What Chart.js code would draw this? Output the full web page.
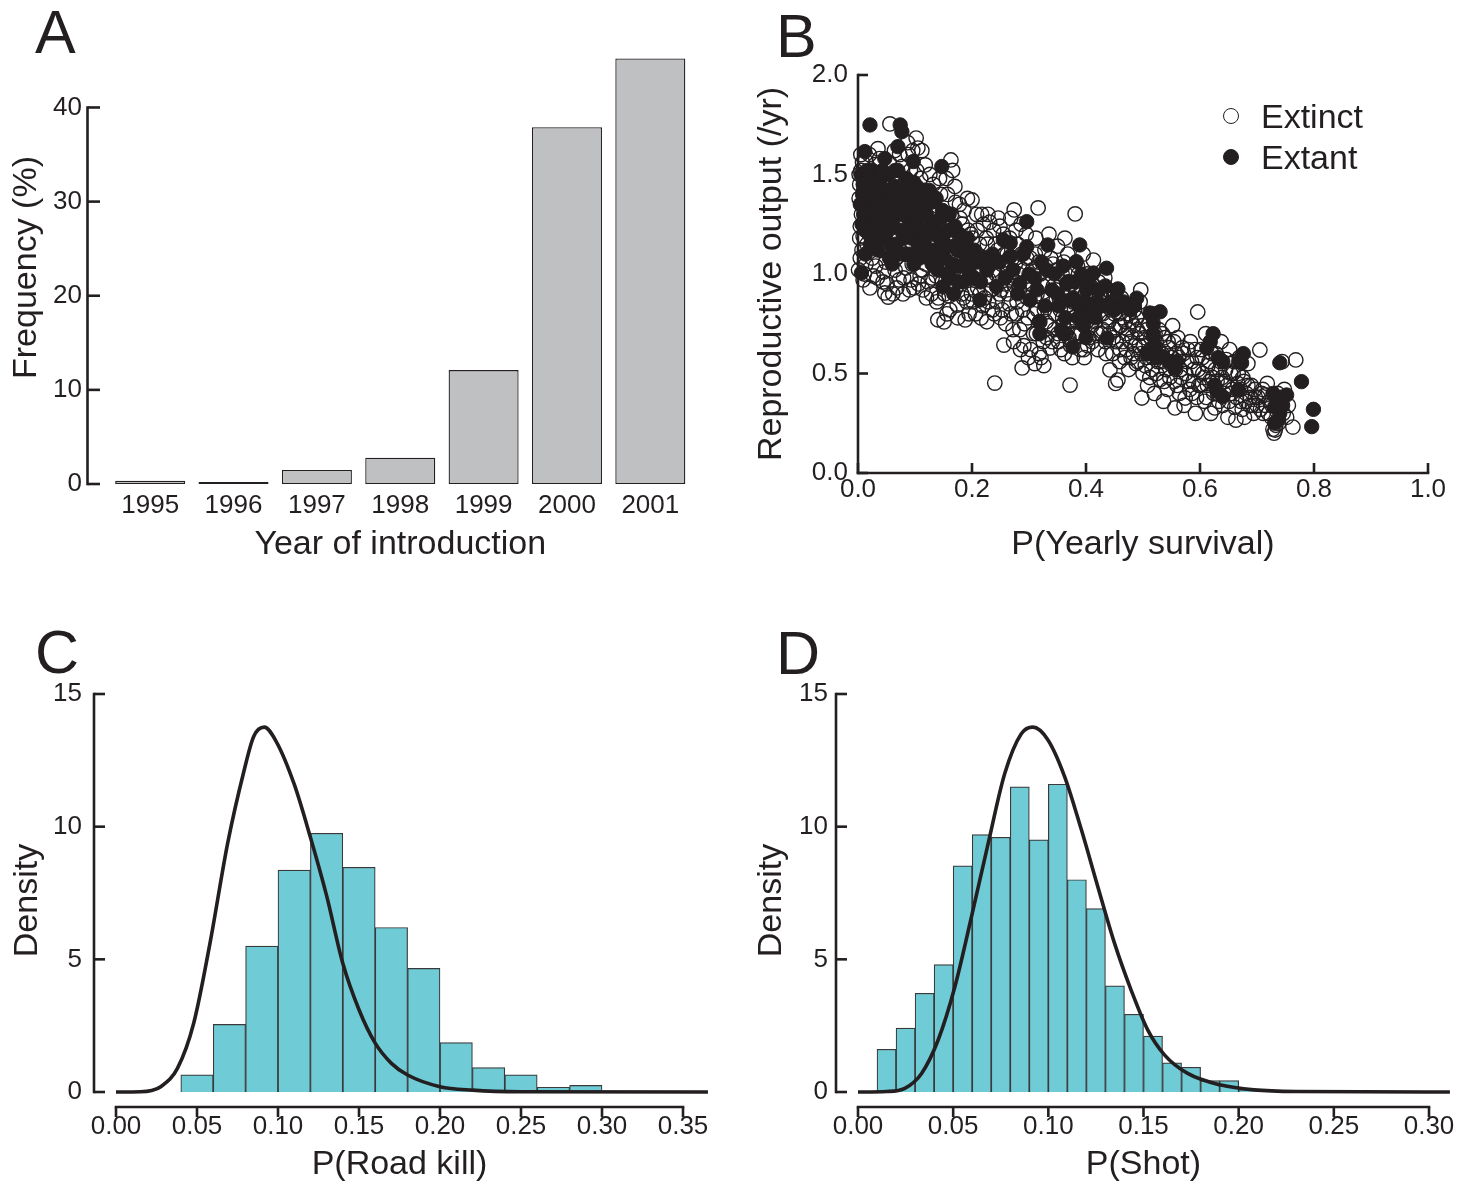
<!DOCTYPE html>
<html>
<head>
<meta charset="utf-8">
<script src="https://cdn.jsdelivr.net/npm/chart.js@4.4.0/dist/chart.umd.min.js"></script>
<style>
  html, body { margin: 0; padding: 0; background: #fff; overflow: hidden; }
  #page { position: relative; width: 1470px; height: 1183px; }
  canvas { position: absolute; }
  .lbl { position: absolute; color: #231f20; line-height: 1; white-space: nowrap; }
  .dot { position: absolute; width: 16px; height: 16px; border-radius: 50%; box-sizing: border-box; border: 1.4px solid #231f20; }
</style>
</head>
<body>
<div id="page">
  <canvas id="chartA" width="735" height="585" style="left:0;top:0"></canvas>
  <canvas id="chartB" width="735" height="585" style="left:735px;top:0"></canvas>
  <canvas id="chartC" width="735" height="605" style="left:0;top:585px"></canvas>
  <canvas id="chartD" width="735" height="605" style="left:735px;top:585px"></canvas>

  <div class="lbl letter" style="left:35px;top:-3px">A</div>
  <div class="lbl letter" style="left:776px;top:1px">B</div>
  <div class="lbl letter" style="left:35px;top:617px">C</div>
  <div class="lbl letter" style="left:776px;top:618px">D</div>

  <div class="dot" style="left:1223px;top:108px"></div>
  <div class="dot" style="left:1223px;top:149px;background:#231f20"></div>
  <div class="lbl legend" id="legExtinct" style="left:1261px">Extinct</div>
  <div class="lbl legend" id="legExtant" style="left:1261px">Extant</div>
</div>

<script>
// ---- data ----

// A: year of introduction
const years = ['1995', '1996', '1997', '1998', '1999', '2000', '2001'];
const yearFreq = [0.35, 0.2, 1.5, 2.8, 12.1, 37.9, 45.2];
const freqTicks = [0, 10, 20, 30, 40];

// B: survival vs reproductive output
const extinctPts = [
  [0.003,1.45],[0.005,1.52],[0.002,1.38],[0.006,1.30],[0.004,1.24],[0.008,1.56],[0.010,1.42],[0.012,1.33],
  [0.003,1.18],[0.007,1.12],[0.001,1.02],[0.009,0.97],[0.015,1.27],[0.018,1.49],[0.020,1.60],[0.022,1.20],
  [0.025,1.08],[0.028,1.38],[0.014,1.05],[0.030,1.55],[0.027,0.99],[0.005,1.60],[0.016,1.15],
  [0.035,1.63],[0.038,1.47],[0.040,1.29],[0.042,1.12],[0.045,1.01],[0.047,0.905],[0.050,1.22],[0.052,1.40],
  [0.053,0.884],[0.055,1.56],[0.056,1.754],[0.058,1.09],[0.033,1.35],[0.044,0.96],[0.036,1.18],[0.060,1.31],
  [0.062,1.50],[0.065,1.02],[0.068,0.93],[0.070,1.17],[0.073,1.60],[0.075,1.27],[0.078,1.44],[0.080,0.98],
  [0.083,1.10],[0.085,1.35],[0.088,1.60],[0.090,0.92],[0.092,1.52],[0.095,1.05],[0.097,1.20],[0.099,1.42],
  [0.066,1.38],[0.087,1.66],
  [0.102,1.683],[0.105,1.633],[0.104,1.30],[0.106,0.95],[0.108,1.13],[0.110,1.48],[0.113,1.02],[0.115,1.25],
  [0.118,1.548],[0.120,0.88],[0.122,1.38],[0.125,1.08],[0.128,1.18],[0.130,0.98],[0.132,1.45],[0.135,1.30],
  [0.138,0.86],[0.140,0.77],[0.112,1.62],[0.136,1.05],
  [0.142,1.20],[0.145,1.40],[0.148,0.96],[0.151,0.759],[0.153,1.10],[0.155,1.48],[0.158,1.30],[0.160,0.89],
  [0.163,1.573],[0.165,1.02],[0.168,1.22],[0.170,1.44],[0.172,0.93],[0.174,0.844],[0.176,1.12],[0.178,1.35],
  [0.156,0.80],[0.166,1.52],
  [0.181,1.05],[0.183,1.25],[0.185,0.88],[0.188,0.769],[0.190,1.14],[0.192,1.38],[0.195,0.98],[0.198,1.20],
  [0.200,1.372],[0.202,0.86],[0.205,1.08],[0.208,1.30],[0.210,0.93],[0.213,1.15],[0.216,0.779],[0.218,1.02],
  [0.220,1.25],[0.195,0.80],
  [0.222,0.88],[0.225,1.18],[0.228,1.30],[0.230,0.97],[0.233,1.08],[0.236,0.82],[0.238,1.22],[0.240,0.452],
  [0.242,1.00],[0.245,1.12],[0.246,1.281],[0.248,0.90],[0.250,0.78],[0.252,1.05],[0.255,1.20],[0.256,0.643],
  [0.258,0.95],[0.226,0.76],
  [0.262,1.10],[0.265,0.85],[0.268,1.28],[0.270,0.98],[0.272,0.72],[0.274,1.322],[0.276,1.05],[0.278,0.80],
  [0.280,1.15],[0.283,0.92],[0.285,0.62],[0.288,0.528],[0.290,1.02],[0.292,0.75],[0.295,1.20],[0.297,0.88],
  [0.299,0.58],[0.286,1.25],
  [0.302,1.08],[0.305,0.95],[0.308,0.70],[0.310,0.55],[0.312,1.18],[0.315,0.82],[0.316,1.332],[0.318,0.60],
  [0.320,1.00],[0.323,0.88],[0.325,0.66],[0.328,1.12],[0.330,0.76],[0.333,0.95],[0.335,1.20],[0.337,0.628],
  [0.339,0.85],[0.326,0.54],
  [0.342,1.05],[0.345,0.72],[0.347,0.92],[0.350,1.14],[0.352,0.66],[0.355,0.82],[0.358,1.00],[0.360,0.75],
  [0.362,0.60],[0.365,0.88],[0.368,1.10],[0.370,0.68],[0.372,0.442],[0.375,0.95],[0.378,0.78],[0.381,1.302],
  [0.376,0.58],[0.363,1.18],
  [0.383,0.86],[0.385,1.04],[0.388,0.70],[0.390,0.62],[0.392,0.92],[0.395,1.10],[0.398,0.78],[0.400,0.85],
  [0.402,1.00],[0.405,0.68],[0.408,0.94],[0.410,0.74],[0.413,1.07],[0.415,0.82],[0.418,0.90],[0.420,0.70],
  [0.397,0.58],
  [0.422,0.96],[0.425,0.80],[0.428,0.88],[0.430,0.72],[0.433,0.98],[0.435,0.60],[0.438,0.84],[0.440,0.76],
  [0.442,0.518],[0.445,0.90],[0.448,0.68],[0.450,0.80],[0.452,0.45],[0.455,0.86],[0.456,0.467],[0.458,0.74],
  [0.460,0.62],
  [0.462,0.88],[0.465,0.78],[0.468,0.58],[0.470,0.70],[0.473,0.84],[0.475,0.52],[0.478,0.66],[0.480,0.76],
  [0.483,0.60],[0.485,0.82],[0.488,0.55],[0.490,0.72],[0.493,0.64],[0.495,0.86],[0.498,0.377],[0.500,0.50],
  [0.496,0.92],
  [0.503,0.68],[0.506,0.58],[0.508,0.44],[0.510,0.75],[0.513,0.62],[0.516,0.52],[0.518,0.80],[0.520,0.40],
  [0.523,0.66],[0.526,0.56],[0.528,0.72],[0.530,0.47],[0.533,0.60],[0.536,0.36],[0.538,0.68],[0.540,0.52],
  [0.543,0.42],[0.546,0.63],[0.548,0.55],
  [0.552,0.74],[0.555,0.46],[0.556,0.327],[0.558,0.60],[0.561,0.68],[0.564,0.40],[0.566,0.52],[0.569,0.63],
  [0.572,0.34],[0.574,0.377],[0.577,0.56],[0.580,0.46],[0.583,0.66],[0.586,0.40],[0.589,0.52],[0.592,0.30],
  [0.595,0.58],[0.596,0.809],[0.598,0.44],
  [0.602,0.62],[0.605,0.50],[0.608,0.36],[0.610,0.70],[0.613,0.44],[0.616,0.56],[0.619,0.30],[0.622,0.48],
  [0.626,0.327],[0.628,0.60],[0.631,0.40],[0.634,0.52],[0.637,0.66],[0.640,0.34],[0.643,0.46],[0.646,0.57],
  [0.649,0.28],
  [0.652,0.62],[0.655,0.40],[0.658,0.50],[0.661,0.33],[0.663,0.266],[0.666,0.45],[0.669,0.58],[0.672,0.36],
  [0.675,0.48],[0.678,0.28],[0.681,0.40],[0.684,0.55],[0.687,0.34],[0.690,0.44],[0.694,0.30],[0.697,0.38],
  [0.700,0.34],[0.705,0.618],[0.708,0.40],[0.711,0.30],[0.714,0.392],[0.718,0.45],[0.722,0.36],[0.725,0.28],
  [0.728,0.22],[0.730,0.20],[0.732,0.216],[0.735,0.31],[0.738,0.25],[0.742,0.38],[0.748,0.42],[0.755,0.34],
  [0.763,0.231],[0.768,0.568],[0.744,0.56],
  // second pass over the band
  [0.004,1.08],[0.011,1.00],[0.002,1.50],[0.013,1.57],[0.019,1.11],[0.024,1.45],[0.029,1.25],[0.031,1.04],
  [0.034,0.98],[0.038,1.58],[0.041,1.40],[0.043,1.20],[0.046,1.32],[0.049,1.06],[0.021,0.93],[0.017,1.36],
  [0.009,1.19],
  [0.051,0.95],[0.054,1.14],[0.057,1.45],[0.059,1.26],[0.061,0.90],[0.064,1.62],[0.067,1.08],[0.069,1.33],
  [0.072,0.97],[0.074,1.12],[0.077,1.54],[0.079,0.90],[0.081,1.24],[0.084,1.03],[0.086,1.46],[0.089,1.15],
  [0.091,1.30],[0.093,0.97],[0.096,1.62],[0.098,0.93],
  [0.101,1.10],[0.103,1.52],[0.107,1.22],[0.109,0.99],[0.111,1.35],[0.114,0.92],[0.117,1.42],[0.119,1.05],
  [0.121,1.20],[0.123,0.96],[0.126,1.50],[0.127,1.28],[0.129,0.90],[0.131,1.14],[0.134,1.38],[0.137,0.99],
  [0.139,1.22],[0.141,0.88],[0.143,1.48],[0.146,1.06],[0.149,1.26],
  [0.152,0.90],[0.154,1.18],[0.157,1.40],[0.159,1.02],[0.161,0.82],[0.164,1.30],[0.167,1.08],[0.169,0.95],
  [0.171,1.36],[0.173,1.18],[0.175,0.78],[0.177,1.00],[0.179,1.28],[0.182,0.90],[0.184,1.12],[0.186,1.32],
  [0.189,0.98],[0.191,0.86],[0.193,1.22],[0.197,1.10],[0.199,0.90],
  [0.201,1.18],[0.203,0.98],[0.206,0.80],[0.209,1.22],[0.211,1.04],[0.214,0.90],[0.217,1.30],[0.219,0.84],
  [0.221,1.08],[0.224,0.98],[0.227,1.15],[0.229,0.86],[0.231,1.26],[0.234,0.92],[0.237,1.02],[0.239,0.80],
  [0.241,1.15],[0.244,0.86],[0.247,1.00],[0.249,1.24],
  [0.251,0.92],[0.253,0.82],[0.257,1.10],[0.259,0.75],[0.261,1.00],[0.263,0.90],[0.266,1.18],[0.269,0.80],
  [0.271,1.08],[0.273,0.66],[0.275,0.94],[0.277,1.22],[0.279,0.86],[0.281,1.00],[0.284,0.72],[0.287,1.10],
  [0.289,0.82],[0.291,0.64],[0.293,0.96],[0.296,1.08],[0.298,0.78],
  [0.301,0.92],[0.303,0.62],[0.306,1.02],[0.309,0.80],[0.311,1.10],[0.313,0.70],[0.314,0.90],[0.317,1.06],
  [0.319,0.76],[0.321,0.58],[0.324,0.94],[0.327,0.82],[0.329,1.04],[0.331,0.68],[0.334,0.88],[0.336,0.74],
  [0.338,1.08],[0.341,0.66],[0.343,0.94],[0.346,0.80],[0.349,1.02],
  [0.351,0.70],[0.353,0.88],[0.356,0.62],[0.357,0.96],[0.359,0.78],[0.361,1.06],[0.364,0.70],[0.366,0.84],
  [0.369,0.96],[0.371,0.76],[0.373,0.64],[0.374,1.00],[0.377,0.86],[0.379,0.70],[0.382,0.92],[0.384,0.76],
  [0.387,1.00],[0.389,0.84],[0.391,0.70],[0.394,0.96],[0.396,0.62],[0.399,0.90],
  [0.401,0.76],[0.403,0.64],[0.406,0.88],[0.409,0.82],[0.411,0.66],[0.414,0.94],[0.416,0.76],[0.419,0.84],
  [0.421,0.62],[0.424,0.90],[0.426,0.70],[0.429,0.80],[0.431,0.90],[0.434,0.66],[0.437,0.78],[0.439,0.92],
  [0.441,0.70],[0.444,0.82],[0.447,0.60],[0.449,0.88],
  [0.451,0.72],[0.453,0.66],[0.457,0.80],[0.459,0.56],[0.461,0.74],[0.464,0.66],[0.466,0.84],[0.469,0.76],
  [0.471,0.62],[0.474,0.72],[0.476,0.80],[0.479,0.58],[0.481,0.68],[0.484,0.74],[0.486,0.64],[0.489,0.78],
  [0.491,0.56],[0.494,0.70],[0.497,0.60],[0.499,0.74],
  [0.501,0.64],[0.504,0.54],[0.507,0.72],[0.509,0.60],[0.512,0.48],[0.514,0.68],[0.517,0.58],[0.521,0.70],
  [0.524,0.50],[0.527,0.62],[0.531,0.56],[0.534,0.70],[0.537,0.46],[0.541,0.60],[0.544,0.66],[0.547,0.48],
  [0.551,0.58],[0.554,0.66],[0.557,0.52],[0.560,0.44],[0.563,0.58],[0.567,0.48],[0.571,0.60],[0.575,0.50],
  [0.579,0.62],[0.582,0.42],[0.585,0.56],[0.588,0.46],[0.591,0.62],[0.594,0.38],[0.597,0.52],
  [0.601,0.44],[0.604,0.58],[0.607,0.48],[0.611,0.38],[0.614,0.54],[0.617,0.46],[0.621,0.60],[0.624,0.40],
  [0.627,0.52],[0.630,0.46],[0.633,0.36],[0.636,0.56],[0.639,0.48],[0.642,0.40],[0.645,0.52],[0.648,0.44],
  [0.651,0.36],[0.654,0.50],[0.657,0.42],[0.660,0.56],[0.664,0.38],[0.667,0.50],[0.671,0.42],[0.674,0.32],
  [0.677,0.46],[0.680,0.36],[0.684,0.44],[0.688,0.38],[0.692,0.34],[0.696,0.42],
  [0.702,0.38],[0.706,0.32],[0.710,0.42],[0.715,0.34],[0.720,0.30],[0.726,0.34],[0.733,0.24],[0.736,0.40],
  [0.741,0.33],[0.746,0.30],[0.752,0.28]
];
const extantPts = [
  [0.021,1.749],[0.074,1.749],[0.077,1.715],[0.012,1.615],[0.070,1.64],[0.047,1.58],[0.097,1.565],[0.147,1.54],
  [0.006,1.005],
  [0.005,1.50],[0.008,1.40],[0.010,1.30],[0.012,1.22],[0.015,1.46],[0.018,1.36],[0.020,1.26],[0.022,1.15],
  [0.025,1.52],[0.028,1.42],[0.030,1.32],[0.033,1.22],[0.035,1.12],[0.038,1.48],[0.042,1.38],[0.045,1.28],
  [0.048,1.18],[0.052,1.50],[0.055,1.08],[0.058,1.35],[0.060,1.25],[0.063,1.44],[0.066,1.15],[0.070,1.52],
  [0.072,1.32],[0.075,1.22],[0.078,1.42],[0.082,1.10],[0.085,1.48],[0.088,1.28],[0.090,1.38],[0.094,1.18],
  [0.098,1.46],[0.102,1.34],[0.105,1.24],[0.108,1.08],[0.112,1.40],[0.116,1.16],[0.120,1.30],[0.124,1.22],
  [0.128,1.36],[0.132,1.12],[0.136,1.26],[0.140,1.02],[0.144,1.18],[0.148,1.32],[0.152,1.08],[0.158,1.22],
  [0.162,0.98],[0.168,1.14],[0.172,1.04],[0.178,1.20],[0.184,0.96],[0.190,1.08],[0.196,1.00],[0.149,0.935],
  [0.214,0.869],[0.204,1.12],[0.168,0.90],
  [0.243,0.936],[0.255,1.171],[0.267,1.087],[0.267,1.156],[0.284,0.953],[0.296,1.263],[0.296,1.137],[0.302,0.869],
  [0.319,0.70],[0.331,1.02],[0.333,1.146],[0.357,0.719],[0.366,0.953],[0.372,0.869],[0.377,0.633],[0.383,1.062],
  [0.389,1.146],[0.401,0.92],[0.407,0.786],[0.413,1.005],[0.436,1.029],[0.437,0.678],[0.454,0.92],[0.456,0.925],
  [0.489,0.879],[0.507,0.603],[0.226,1.02],[0.236,1.10],[0.310,0.98],[0.350,0.90],[0.390,0.84],[0.420,0.86],
  [0.345,1.00],[0.380,0.96],[0.470,0.84],[0.400,0.68],
  [0.512,0.804],[0.518,0.70],[0.530,0.81],[0.518,0.753],[0.518,0.685],[0.512,0.603],[0.535,0.585],[0.556,0.527],
  [0.623,0.70],[0.612,0.628],[0.640,0.56],[0.676,0.60],[0.673,0.553],[0.626,0.442],[0.640,0.383],[0.667,0.417],
  [0.740,0.554],[0.778,0.459],[0.728,0.40],[0.752,0.392],[0.731,0.333],[0.731,0.25],[0.799,0.32],[0.796,0.233],
  [0.740,0.30],
  // dense core
  [0.004,1.35],[0.007,1.25],[0.009,1.45],[0.013,1.10],[0.016,1.52],[0.019,1.20],[0.023,1.40],[0.026,1.30],
  [0.029,1.17],[0.032,1.46],[0.036,1.35],[0.040,1.24],[0.043,1.52],[0.046,1.42],[0.050,1.32],[0.053,1.22],
  [0.056,1.42],[0.059,1.14],[0.062,1.32],[0.065,1.52],[0.068,1.42],[0.071,1.10],[0.074,1.38],[0.077,1.30],
  [0.080,1.18],[0.083,1.36],[0.086,1.22],[0.089,1.45],[0.092,1.10],[0.095,1.30],[0.099,1.22],[0.103,1.44],
  [0.106,1.15],[0.110,1.30],[0.113,1.22],[0.117,1.36],[0.121,1.10],[0.125,1.42],[0.129,1.26],[0.133,1.20],
  [0.137,1.38],[0.141,1.12],[0.145,1.28],[0.150,1.20],[0.155,1.14],[0.160,1.30],[0.165,1.05],[0.170,1.24],
  [0.175,1.12],[0.180,1.04],[0.186,1.14],[0.192,1.18],[0.198,1.05],[0.203,0.98],[0.209,1.06],[0.215,0.96],
  [0.220,1.08],[0.176,0.96],[0.156,1.00],[0.130,1.05],[0.098,1.05],[0.060,1.05],
  [0.230,1.04],[0.248,1.06],[0.258,0.98],[0.272,1.02],[0.280,0.90],[0.290,1.10],[0.300,1.00],[0.314,0.92],
  [0.322,1.06],[0.328,0.84],[0.340,0.92],[0.352,0.84],[0.360,1.04],[0.364,0.78],[0.370,0.96],[0.378,0.88],
  [0.386,0.78],[0.392,1.00],[0.398,0.86],[0.404,0.96],[0.410,0.84],[0.416,0.78],[0.422,0.92],[0.428,0.84],
  [0.434,0.94],[0.444,0.86],[0.450,0.82],[0.460,0.84],[0.466,0.86],[0.478,0.82],[0.485,0.84],[0.396,0.74],
  [0.362,0.70],[0.318,0.76],
  [0.520,0.64],[0.525,0.58],[0.545,0.56],[0.560,0.56],[0.618,0.66],[0.632,0.58],[0.668,0.56],[0.630,0.41],
  [0.735,0.36],[0.745,0.34],[0.738,0.27]
];
const survivalTicks = [0, 0.2, 0.4, 0.6, 0.8, 1.0];
const outputTicks = [0, 0.5, 1.0, 1.5, 2.0];

// C: road kill
const roadKillBins = [0.05, 0.07, 0.09, 0.11, 0.13, 0.15, 0.17, 0.19, 0.21, 0.23, 0.25, 0.27, 0.29];
const roadKillDensity = [0.65, 2.55, 5.5, 8.36, 9.75, 8.47, 6.2, 4.66, 1.86, 0.92, 0.65, 0.18, 0.25];
const roadKillPriorX = [0, 0.015, 0.022, 0.0276, 0.038, 0.048, 0.058, 0.069, 0.079, 0.085, 0.0915, 0.099, 0.11,
  0.12, 0.13, 0.14, 0.15, 0.16, 0.17, 0.18, 0.20, 0.22, 0.25, 0.3654];
const roadKillPriorY = [0, 0.01, 0.06, 0.2, 0.9, 2.6, 5.6, 9.4, 12.1, 13.4, 13.75, 13.2, 11.6,
  9.6, 7.4, 4.85, 3.1, 1.84, 1.08, 0.64, 0.2, 0.07, 0.01, 0];
const roadKillTicks = [0, 0.05, 0.10, 0.15, 0.20, 0.25, 0.30, 0.35];

// D: shot
const shotBins = [0.015, 0.025, 0.035, 0.045, 0.055, 0.065, 0.075, 0.085, 0.095, 0.105, 0.115, 0.125, 0.135,
  0.145, 0.155, 0.165, 0.175, 0.185, 0.195, 0.205, 0.215, 0.225, 0.235, 0.245, 0.255];
const shotDensity = [1.61, 2.41, 3.72, 4.8, 8.52, 9.7, 9.6, 11.5, 9.5, 11.6, 8.0, 6.91, 4.0,
  2.93, 2.11, 1.1, 0.93, 0.43, 0.43, 0.08, 0.03, 0.01, 0, 0, 0.06];
const shotPriorX = [0, 0.015, 0.0246, 0.0334, 0.0421, 0.0509, 0.0596, 0.0684, 0.0771, 0.0858, 0.0919, 0.0998,
  0.1085, 0.1173, 0.126, 0.1348, 0.1435, 0.1522, 0.161, 0.1732, 0.1907, 0.208, 0.23, 0.311];
const shotPriorY = [0, 0.02, 0.14, 0.7, 1.96, 3.97, 6.6, 9.37, 12.0, 13.5, 13.75, 13.27,
  11.9, 9.9, 7.74, 5.6, 3.84, 2.34, 1.4, 0.7, 0.26, 0.08, 0.02, 0];
const shotTicks = [0, 0.05, 0.10, 0.15, 0.20, 0.25, 0.30];
const densityTicks = [0, 5, 10, 15];

// ---- style ----
const INK = '#231f20';
const GREY = '#bfc0c2';
const CYAN = '#6fcbd6';

function hasFont(name) {
  const c = document.createElement('canvas').getContext('2d');
  c.font = '60px monospace';
  const base = c.measureText('Frequency 0123').width;
  c.font = `60px "${name}", monospace`;
  return c.measureText('Frequency 0123').width !== base;
}
const NARROW = hasFont('Liberation Sans Narrow');
const FAMILY = NARROW ? '"Liberation Sans Narrow", "Liberation Sans", Arial, sans-serif' : '"Liberation Sans", Arial, sans-serif';
const TICK = NARROW ? 30.5 : 26;
const TITLE = NARROW ? 41 : 34;
const tickFont = { family: FAMILY, size: TICK, lineHeight: 1 };
const titleFont = { family: FAMILY, size: TITLE, lineHeight: 1 };

document.querySelectorAll('.letter').forEach(el => {
  el.style.font = '61px "Liberation Sans", Arial, sans-serif';
});
document.querySelectorAll('.legend').forEach(el => {
  el.style.fontFamily = FAMILY;
  el.style.fontSize = TITLE + 'px';
});
document.getElementById('legExtinct').style.top = (116 - TITLE * 0.49) + 'px';
document.getElementById('legExtant').style.top = (157 - TITLE * 0.49) + 'px';

Chart.defaults.animation = false;
Chart.defaults.color = INK;

// draws the axis lines and tick marks where the figure has them
const axisFrame = {
  id: 'axisFrame',
  afterDatasetsDraw(chart, args, o) {
    const { ctx, chartArea: a, scales } = chart;
    ctx.save();
    ctx.strokeStyle = INK;
    ctx.lineWidth = 2.6;
    const seg = (x1, y1, x2, y2) => { ctx.beginPath(); ctx.moveTo(x1, y1); ctx.lineTo(x2, y2); ctx.stroke(); };
    if (o.y) {
      const s = scales.y, px = a.left - o.y.gap;
      seg(px, s.getPixelForValue(o.y.from) + 1.3, px, s.getPixelForValue(o.y.to) - 1.3);
      s.ticks.forEach(t => { const py = s.getPixelForValue(t.value); seg(px, py, px + o.y.tick, py); });
    }
    if (o.x) {
      const s = scales.x, py = a.bottom + o.x.gap;
      seg(s.getPixelForValue(o.x.from) - 1.3, py, s.getPixelForValue(o.x.to) + 1.3, py);
      s.ticks.forEach(t => { const px = s.getPixelForValue(t.value); seg(px, py, px, py + o.x.tick); });
    }
    ctx.restore();
  }
};

function yAxis({ min, max, ticks, fmt, width, labelRight, title, titleX }) {
  return {
    type: 'linear', min, max,
    afterBuildTicks: s => { s.ticks = ticks.map(v => ({ value: v })); },
    afterFit: s => { s.width = width; },
    grid: { display: false, drawTicks: false },
    border: { display: false },
    ticks: { padding: width - labelRight, font: tickFont, color: INK, callback: fmt },
    title: { display: true, text: title, font: titleFont, color: INK, padding: { top: titleX - TITLE / 2 } }
  };
}

function xAxis({ type = 'linear', min, max, ticks, fmt, height, axisPx, labelY, titleY, canvasH, title }) {
  const ax = {
    type,
    afterFit: s => { s.height = height; },
    grid: { display: false, drawTicks: false },
    border: { display: false },
    ticks: { padding: labelY - axisPx - TICK / 2, font: tickFont, color: INK, maxRotation: 0, autoSkip: false },
    title: { display: true, text: title, font: titleFont, color: INK, padding: { bottom: canvasH - titleY - TITLE / 2 } }
  };
  if (type === 'linear') {
    Object.assign(ax, { min, max, offset: false });
    ax.afterBuildTicks = s => { s.ticks = ticks.map(v => ({ value: v })); };
    ax.ticks.callback = fmt;
  }
  return ax;
}

const fixed = n => v => Number(v).toFixed(n);

// ---- A ----
new Chart(document.getElementById('chartA'), {
  type: 'bar',
  data: {
    labels: years,
    datasets: [{
      data: yearFreq,
      backgroundColor: GREY,
      borderColor: INK,
      borderWidth: 1.3,
      borderSkipped: false,
      barPercentage: 0.84,
      categoryPercentage: 1
    }]
  },
  options: {
    responsive: false,
    layout: { padding: { left: 0, top: 51, right: 735 - 692, bottom: 0 } },
    plugins: {
      legend: { display: false }, tooltip: { enabled: false },
      axisFrame: { y: { from: 0, to: 40, gap: 21, tick: 12.5 } }
    },
    scales: {
      x: xAxis({ type: 'category', height: 585 - 484, axisPx: 484, labelY: 506, titleY: 545, canvasH: 585, title: 'Year of introduction' }),
      y: yAxis({ min: 0, max: 46, ticks: freqTicks, fmt: v => v, width: 108.5, labelRight: 82, title: 'Frequency (%)', titleX: 27 })
    }
  },
  plugins: [axisFrame]
});

// ---- B ----
const toXY = pts => pts.map(([x, y]) => ({ x, y }));
new Chart(document.getElementById('chartB'), {
  type: 'scatter',
  data: {
    datasets: [
      {
        label: 'Extinct',
        data: toXY(extinctPts),
        pointRadius: 7.2,
        pointBorderWidth: 1.4,
        pointBackgroundColor: 'rgba(0,0,0,0)',
        pointBorderColor: INK,
        clip: false,
        order: 2
      },
      {
        label: 'Extant',
        data: toXY(extantPts),
        pointRadius: 7.2,
        pointBorderWidth: 1,
        pointBackgroundColor: INK,
        pointBorderColor: INK,
        clip: false,
        order: 1
      }
    ]
  },
  options: {
    responsive: false,
    layout: { padding: { left: 0, top: 75, right: 735 - 693, bottom: 0 } },
    plugins: {
      legend: { display: false }, tooltip: { enabled: false },
      axisFrame: { y: { from: 0, to: 2, gap: 0, tick: 10 }, x: { from: 0, to: 1, gap: 0, tick: -10 } }
    },
    scales: {
      x: xAxis({ min: 0, max: 1, ticks: survivalTicks, fmt: fixed(1), height: 585 - 473, axisPx: 473, labelY: 490, titleY: 545, canvasH: 585, title: 'P(Yearly survival)' }),
      y: yAxis({ min: 0, max: 2, ticks: outputTicks, fmt: fixed(1), width: 123, labelRight: 113, title: 'Reproductive output (/yr)', titleX: 37 })
    }
  },
  plugins: [axisFrame]
});

// ---- C and D ----
function densityChart(id, bins, dens, px, py, xTicks, xMax, yWidth, plotW, labelRight, titleX, title) {
  return new Chart(document.getElementById(id), {
    type: 'bar',
    data: {
      datasets: [
        {
          type: 'line',
          data: px.map((x, i) => ({ x, y: py[i] })),
          borderColor: INK,
          borderWidth: 3.6,
          pointRadius: 0,
          cubicInterpolationMode: 'monotone',
          clip: false,
          order: 0
        },
        {
          type: 'bar',
          data: bins.map((x, i) => ({ x, y: dens[i] })),
          backgroundColor: CYAN,
          borderColor: '#3a3a3a',
          borderWidth: 1.2,
          barPercentage: 1,
          categoryPercentage: 1,
          order: 1
        }
      ]
    },
    options: {
      responsive: false,
      layout: { padding: { left: 0, top: 109, right: 735 - (yWidth + plotW), bottom: 0 } },
      plugins: {
        legend: { display: false }, tooltip: { enabled: false },
        axisFrame: { y: { from: 0, to: 15, gap: 22, tick: 11 }, x: { from: 0, to: xMax, gap: 0, tick: 10 } }
      },
      scales: {
        x: xAxis({ min: 0, max: xMax, ticks: xTicks, fmt: fixed(2), height: 605 - 522, axisPx: 522, labelY: 542, titleY: 580, canvasH: 605, title }),
        y: yAxis({ min: -0.565, max: 15, ticks: densityTicks, fmt: v => v, width: yWidth, labelRight, title: 'Density', titleX })
      }
    },
    plugins: [axisFrame]
  });
}

densityChart('chartC', roadKillBins, roadKillDensity, roadKillPriorX, roadKillPriorY, roadKillTicks, 0.35, 116, 567, 82, 28, 'P(Road kill)');
densityChart('chartD', shotBins, shotDensity, shotPriorX, shotPriorY, shotTicks, 0.30, 123, 571, 93, 37, 'P(Shot)');
</script>
</body>
</html>
